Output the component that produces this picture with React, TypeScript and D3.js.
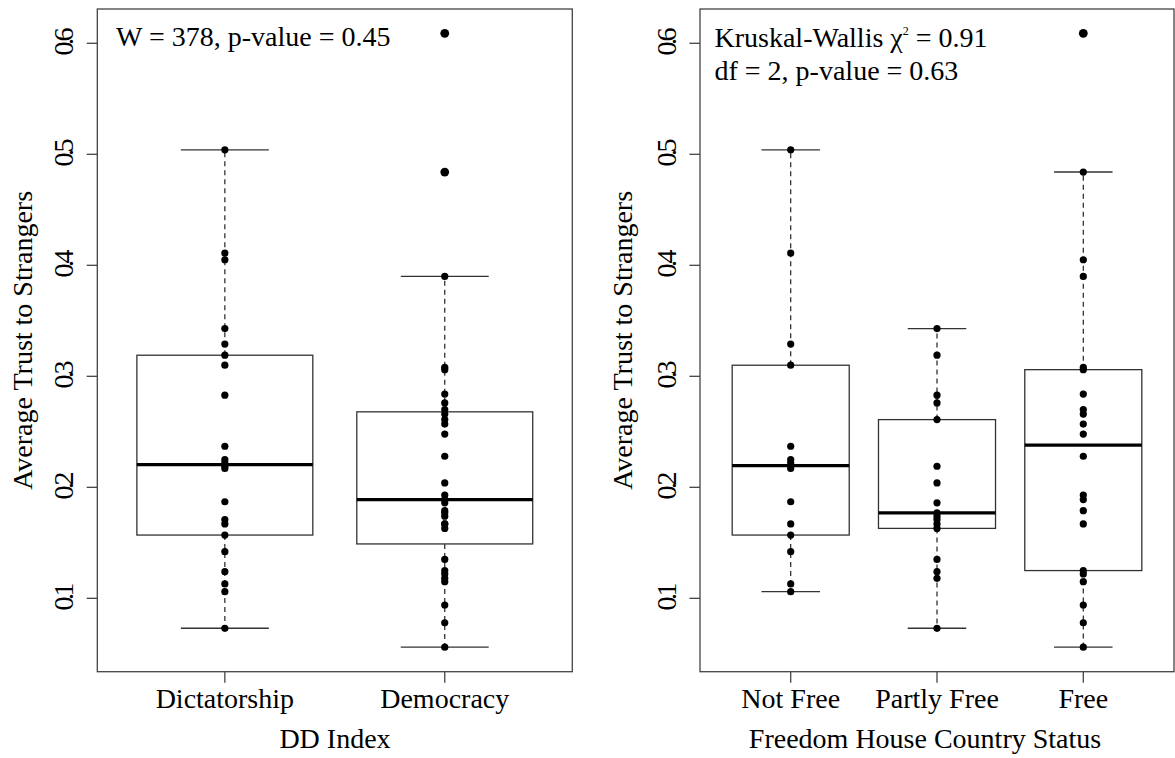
import { useEffect, useRef } from 'react';
import * as d3 from 'd3';

const ddCategories = ['Dictatorship', 'Democracy'];
const fhCategories = ['Not Free', 'Partly Free', 'Free'];
const yTicks = [0.1, 0.2, 0.3, 0.4, 0.5, 0.6];

const dictatorship = [0.504, 0.411, 0.405, 0.343, 0.329, 0.319, 0.31, 0.283, 0.237, 0.225, 0.222, 0.219, 0.217, 0.187, 0.171, 0.167, 0.157, 0.142, 0.124, 0.113, 0.106, 0.073];
const democracy = [0.609, 0.484, 0.39, 0.308, 0.306, 0.284, 0.276, 0.27, 0.266, 0.261, 0.257, 0.248, 0.228, 0.204, 0.193, 0.189, 0.186, 0.179, 0.177, 0.174, 0.167, 0.167, 0.163, 0.135, 0.125, 0.122, 0.118, 0.115, 0.094, 0.078, 0.056];

const notFree = [0.504, 0.411, 0.329, 0.31, 0.237, 0.225, 0.222, 0.217, 0.187, 0.167, 0.157, 0.142, 0.113, 0.106];
const partlyFree = [0.343, 0.319, 0.283, 0.276, 0.261, 0.219, 0.204, 0.186, 0.177, 0.174, 0.171, 0.167, 0.163, 0.135, 0.124, 0.118, 0.073];
const free = [0.609, 0.484, 0.405, 0.39, 0.308, 0.306, 0.284, 0.27, 0.266, 0.257, 0.248, 0.228, 0.193, 0.189, 0.179, 0.167, 0.125, 0.122, 0.115, 0.094, 0.078, 0.056];

const FONT = '"Liberation Serif", "Times New Roman", serif';

// same hinges as R's fivenum / boxplot.stats
function fivenum(values: number[]) {
  const x = [...values].sort(d3.ascending);
  const n = x.length;
  const n4 = Math.floor((n + 3) / 2) / 2;
  const d = [1, n4, (n + 1) / 2, n + 1 - n4, n];
  return d.map(k => 0.5 * (x[Math.floor(k) - 1] + x[Math.ceil(k) - 1]));
}

function boxStats(values: number[]) {
  const [, q1, med, q3] = fivenum(values);
  const iqr = q3 - q1;
  const inside = values.filter(v => v >= q1 - 1.5 * iqr && v <= q3 + 1.5 * iqr);
  return {
    q1, med, q3,
    lo: d3.min(inside) as number,
    hi: d3.max(inside) as number,
    out: values.filter(v => v < q1 - 1.5 * iqr || v > q3 + 1.5 * iqr),
  };
}

function App() {
  const svgRef = useRef<SVGSVGElement>(null);

  useEffect(() => {
    const svg = d3.select(svgRef.current).attr('width', 1175).attr('height', 758);
    svg.selectAll('*').remove();

    const top = 9;
    const bottom = 671.7;
    const y = d3.scaleLinear().domain([0.0339, 0.6309]).range([bottom, top]);

    const panels = [
      {
        x0: 97.3, x1: 572.3, domain: [0.42, 2.58], cats: ddCategories,
        groups: [dictatorship, democracy], xlab: 'DD Index', xlabX: 335, ylabX: 32,
      },
      {
        x0: 700, x1: 1174, domain: [0.38, 3.62], cats: fhCategories,
        groups: [notFree, partlyFree, free], xlab: 'Freedom House Country Status', xlabX: 925, ylabX: 632,
      },
    ];

    panels.forEach(p => {
      const x = d3.scaleLinear().domain(p.domain).range([p.x0, p.x1]);
      const unit = x(1) - x(0);
      const g = svg.append('g');

      p.groups.forEach((vals, i) => {
        const cx = x(i + 1);
        const s = boxStats(vals);
        const bw = 0.4 * unit;
        const sw = 0.2 * unit;

        // whiskers
        g.append('line').attr('x1', cx).attr('x2', cx).attr('y1', y(s.q3)).attr('y2', y(s.hi))
          .attr('stroke', '#222').attr('stroke-width', 1.2).attr('stroke-dasharray', '5,4');
        g.append('line').attr('x1', cx).attr('x2', cx).attr('y1', y(s.q1)).attr('y2', y(s.lo))
          .attr('stroke', '#222').attr('stroke-width', 1.2).attr('stroke-dasharray', '5,4');
        [s.hi, s.lo].forEach(v => {
          g.append('line').attr('x1', cx - sw).attr('x2', cx + sw).attr('y1', y(v)).attr('y2', y(v))
            .attr('stroke', '#333').attr('stroke-width', 1.4);
        });

        g.append('rect')
          .attr('x', cx - bw).attr('width', 2 * bw)
          .attr('y', y(s.q3)).attr('height', y(s.q1) - y(s.q3))
          .attr('fill', 'none').attr('stroke', '#333').attr('stroke-width', 1.3);
        g.append('line').attr('x1', cx - bw).attr('x2', cx + bw).attr('y1', y(s.med)).attr('y2', y(s.med))
          .attr('stroke', '#000').attr('stroke-width', 3.2);

        g.selectAll(null).data(s.out).enter().append('circle')
          .attr('cx', cx).attr('cy', d => y(d)).attr('r', 4.4).attr('fill', '#000');

        g.selectAll(null).data(vals).enter().append('circle')
          .attr('cx', cx).attr('cy', d => y(d)).attr('r', 3.6).attr('fill', '#000');
      });

      // frame
      g.append('rect').attr('x', p.x0).attr('y', top).attr('width', p.x1 - p.x0).attr('height', bottom - top)
        .attr('fill', 'none').attr('stroke', '#444').attr('stroke-width', 1.3);

      // y axis
      const yAxis = g.append('g');
      yTicks.forEach(t => {
        yAxis.append('line').attr('x1', p.x0 - 10.6).attr('x2', p.x0).attr('y1', y(t)).attr('y2', y(t))
          .attr('stroke', '#444').attr('stroke-width', 1.3);
        yAxis.append('text')
          .attr('transform', `translate(${p.x0 - 24},${y(t)}) rotate(-90)`)
          .attr('text-anchor', 'middle')
          .attr('font-family', FONT).attr('font-size', 28)
          .attr('letter-spacing', -3.5)
          .attr('fill', '#000')
          .text(String(t));
      });

      // x axis
      p.cats.forEach((c, i) => {
        const cx = x(i + 1);
        g.append('line').attr('x1', cx).attr('x2', cx).attr('y1', bottom).attr('y2', bottom + 11)
          .attr('stroke', '#444').attr('stroke-width', 1.3);
        g.append('text').attr('x', cx).attr('y', 708)
          .attr('text-anchor', 'middle').attr('font-family', FONT).attr('font-size', 28)
          .attr('fill', '#000').text(c);
      });

      g.append('text').attr('x', p.xlabX).attr('y', 748)
        .attr('text-anchor', 'middle').attr('font-family', FONT).attr('font-size', 28)
        .attr('fill', '#000').text(p.xlab);

      g.append('text')
        .attr('transform', `translate(${p.ylabX},${(top + bottom) / 2}) rotate(-90)`)
        .attr('text-anchor', 'middle').attr('font-family', FONT).attr('font-size', 28)
        .attr('fill', '#000').text('Average Trust to Strangers');
    });

    // test annotations
    svg.append('text').attr('x', 116).attr('y', 46)
      .attr('font-family', FONT).attr('font-size', 28).attr('fill', '#000')
      .text('W = 378, p-value = 0.45');

    const kw = svg.append('text').attr('x', 714.5).attr('y', 46.5)
      .attr('font-family', FONT).attr('font-size', 28).attr('fill', '#000');
    kw.append('tspan').text('Kruskal-Wallis χ');
    kw.append('tspan').attr('font-size', 12).attr('dy', -12).text('2');
    kw.append('tspan').attr('dy', 12).text(' = 0.91');

    svg.append('text').attr('x', 714.5).attr('y', 80)
      .attr('font-family', FONT).attr('font-size', 28).attr('fill', '#000')
      .text('df = 2, p-value = 0.63');
  }, []);

  return (
    <div style={{ position: 'absolute', left: 0, top: 0, background: '#fff' }}>
      <svg ref={svgRef} style={{ display: 'block' }}></svg>
    </div>
  );
}

export default App;
